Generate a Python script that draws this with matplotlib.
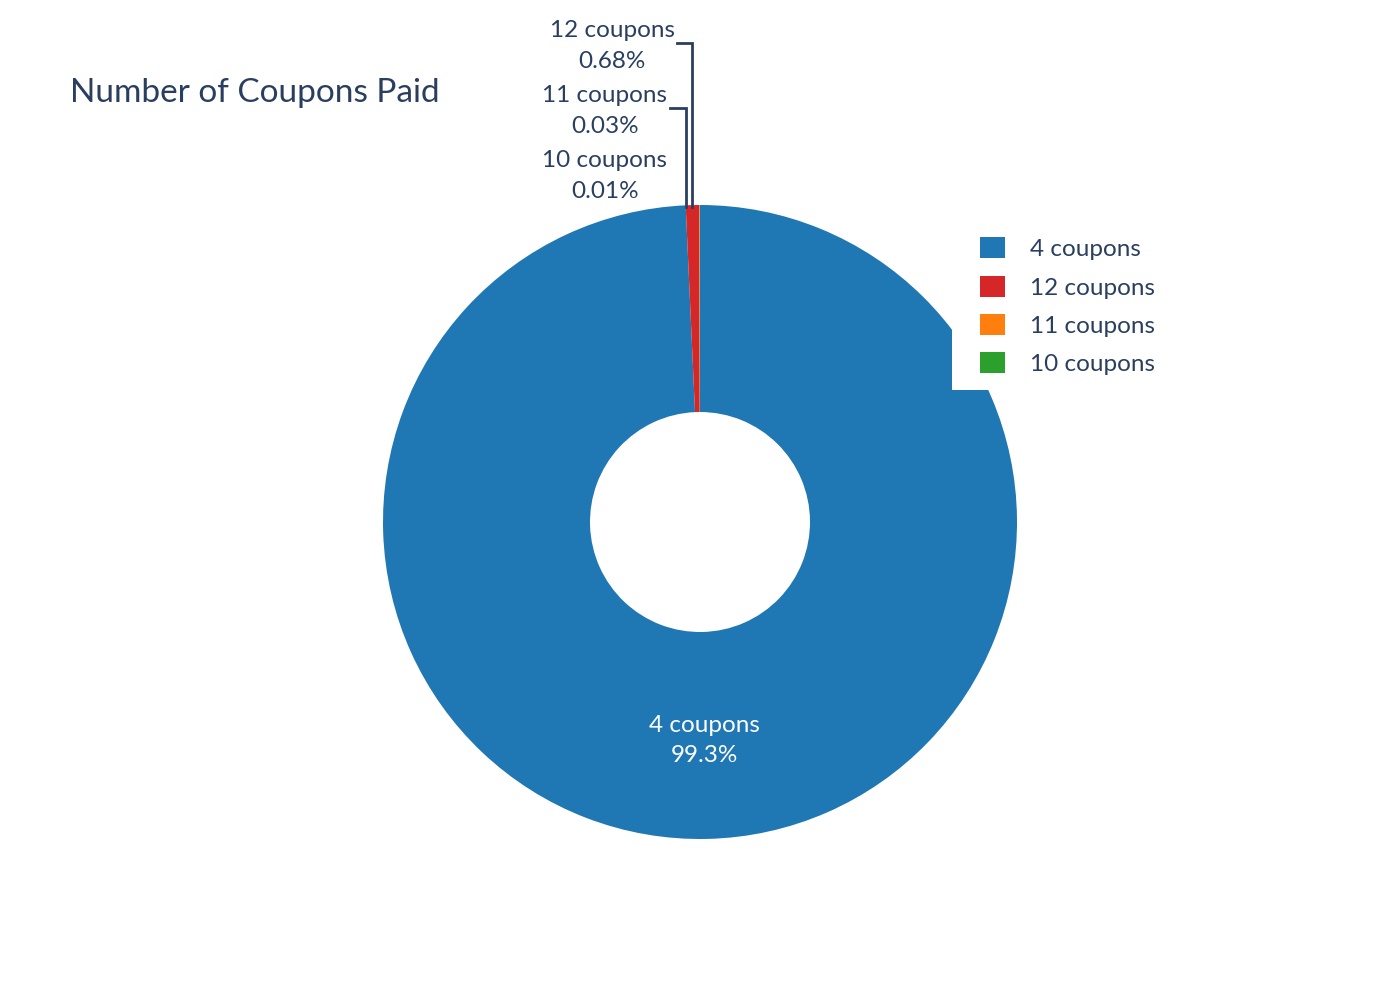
import numpy as np
import matplotlib
matplotlib.use("Agg")
import matplotlib.pyplot as plt
from matplotlib.patches import Rectangle

plt.rcParams['font.family'] = ['Lato', 'DejaVu Sans']

labels = ['4 coupons', '12 coupons', '11 coupons', '10 coupons']
shares = [99.28, 0.68, 0.03, 0.01]
colors = ['#1f77b4', '#d62728', '#ff7f0e', '#2ca02c']
TXT = '#2a3f5f'

W, H = 1400, 1000
CX, CY = 700, H - 522
R_OUT, R_IN = 317, 110

fig = plt.figure(figsize=(14, 10), dpi=100)
ax = fig.add_axes([0, 0, 1, 1])
wedges, _ = ax.pie(shares, colors=colors, startangle=90, counterclock=False,
                   center=(CX, CY), radius=R_OUT, frame=True,
                   wedgeprops=dict(width=R_OUT - R_IN, linewidth=0))
ax.set_xlim(0, W); ax.set_ylim(0, H)
ax.set_aspect('equal')
ax.axis('off')

def pct(v):
    return f"{v:.3g}%"

# label inside the big slice, at mid angle / mid radius
frac = np.array(shares) / sum(shares)
mid = 90 - 360 * (np.cumsum(frac) - frac / 2)
r_mid = (R_OUT + R_IN) / 2
a = np.deg2rad(mid[0])
ax.text(CX + r_mid * np.cos(a), CY + r_mid * np.sin(a) - 5, f"{labels[0]}\n{pct(shares[0])}",
        ha='center', va='center', color='white', fontsize=17.5, linespacing=1.55)

# outside labels stacked above the thin slices
out_pos = [(612, H - 46), (605, H - 111), (605, H - 176)]
leader = [(677, 692, H - 43), (670, 686, H - 108), None]
for i, (pos, ld) in enumerate(zip(out_pos, leader), start=1):
    ax.text(pos[0], pos[1], f"{labels[i]}\n{pct(shares[i])}", ha='center', va='center',
            color=TXT, fontsize=17.5, linespacing=1.55)
    if ld is not None:
        x0, x1, y0 = ld
        ax.plot([x0, x1, x1], [y0, y0, H - 207], color=TXT, lw=2, solid_joinstyle='miter')

ax.text(70, H - 93, "Number of Coupons Paid", ha='left', va='center', color=TXT, fontsize=24)

# legend with white background box over the pie
ax.add_patch(Rectangle((952, H - 390), 230, 162, facecolor='white', edgecolor='none', zorder=3))
leg = ax.legend(wedges, labels, loc='upper left', bbox_to_anchor=(973 / W, (H - 230) / H),
                bbox_transform=fig.transFigure, frameon=False, fontsize=17.5,
                handlelength=1.0, handleheight=0.95, handletextpad=1.05, labelspacing=0.64,
                borderaxespad=0, borderpad=0.3)
for t in leg.get_texts():
    t.set_color(TXT)
leg.set_zorder(4)

fig.savefig("out.png", dpi=100, facecolor='white')
